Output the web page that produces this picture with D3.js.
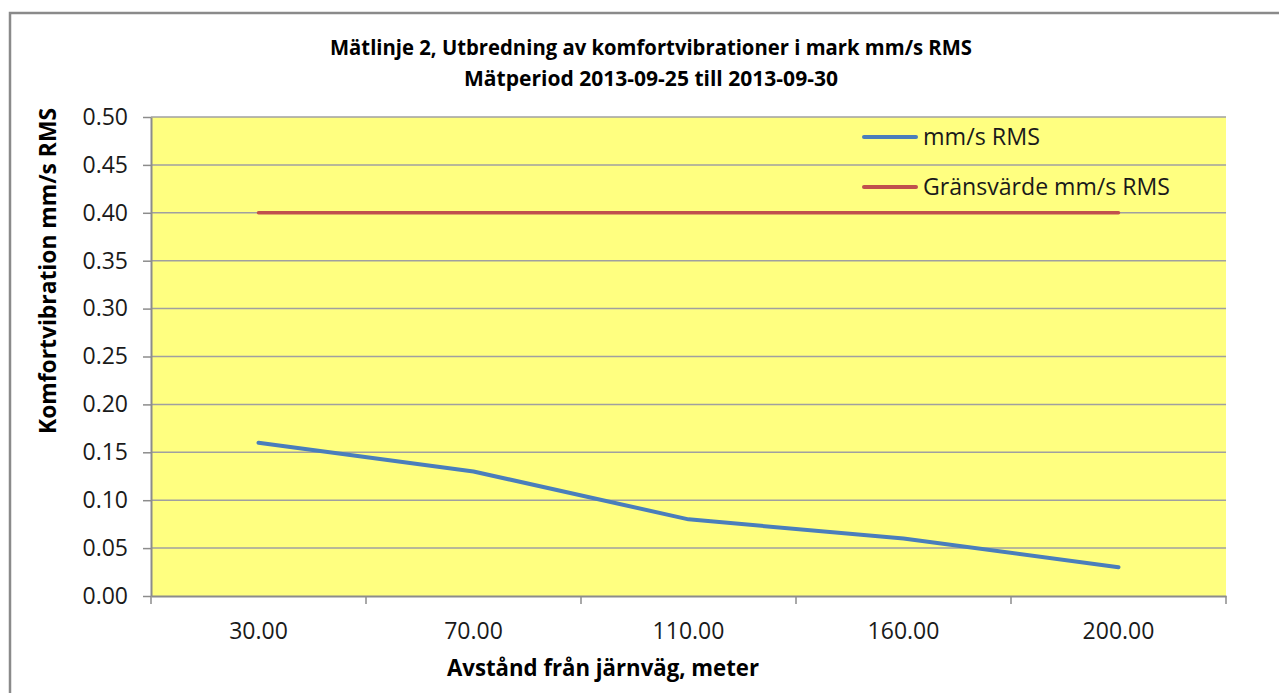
<!DOCTYPE html>
<html>
<head>
<meta charset="utf-8">
<script src="https://cdn.jsdelivr.net/npm/d3@7"></script>
<style>
  html, body { margin: 0; padding: 0; background: #ffffff; }
  svg { display: block; }
</style>
</head>
<body>
<svg id="chart" width="1279" height="693"></svg>
<script>
// ---- data ----
const categories = ["30.00", "70.00", "110.00", "160.00", "200.00"];
const rmsValues = [0.16, 0.13, 0.08, 0.06, 0.03];
const limitValues = [0.40, 0.40, 0.40, 0.40, 0.40];
const yTicks = [0.00, 0.05, 0.10, 0.15, 0.20, 0.25, 0.30, 0.35, 0.40, 0.45, 0.50];
const seriesNames = ["mm/s RMS", "Gränsvärde mm/s RMS"];
const titleLines = ["Mätlinje 2, Utbredning av komfortvibrationer i mark mm/s RMS", "Mätperiod 2013-09-25 till 2013-09-30"];
const xTitle = "Avstånd från järnväg, meter";
const yTitle = "Komfortvibration mm/s RMS";

// ---- layout ----
const svg = d3.select("#chart");
const plot = { left: 151, right: 1226, top: 117, bottom: 596 };
const fontReg = "'Open Sans', 'Liberation Sans', sans-serif";
const textCol = "#1a1a1a";
const gridCol = "#a0a0a0";
const axisCol = "#8c8c8c";

// outer chart border
svg.append("rect")
  .attr("x", 10).attr("y", 13)
  .attr("width", 1300).attr("height", 720)
  .attr("fill", "#ffffff")
  .attr("stroke", "#8a8a8a").attr("stroke-width", 2.5);

const x = d3.scaleBand().domain(categories).range([plot.left, plot.right]).padding(0);
const y = d3.scaleLinear().domain([0, 0.5]).range([plot.bottom, plot.top]);
const cx = c => x(c) + x.bandwidth() / 2;

// plot area
svg.append("rect")
  .attr("x", plot.left).attr("y", plot.top)
  .attr("width", plot.right - plot.left).attr("height", plot.bottom - plot.top)
  .attr("fill", "#ffff80");

// gridlines
svg.append("g").selectAll("line")
  .data(yTicks.filter(d => d > 0))
  .join("line")
  .attr("x1", plot.left).attr("x2", plot.right)
  .attr("y1", d => y(d)).attr("y2", d => y(d))
  .attr("stroke", gridCol).attr("stroke-width", 1.5);

// y axis
const yAxis = svg.append("g")
  .attr("transform", `translate(${plot.left},0)`)
  .call(d3.axisLeft(y).tickValues(yTicks).tickFormat(d3.format(".2f")).tickSize(8).tickSizeOuter(0).tickPadding(15));
yAxis.select(".domain").attr("stroke", axisCol).attr("stroke-width", 2);
yAxis.selectAll(".tick line").attr("stroke", axisCol).attr("stroke-width", 1.5);
yAxis.selectAll(".tick text")
  .attr("fill", textCol)
  .style("font-family", fontReg).style("font-size", "23px");

// x axis
const xAxis = svg.append("g")
  .attr("transform", `translate(0,${plot.bottom})`)
  .call(d3.axisBottom(x).tickSize(0).tickPadding(27).tickSizeOuter(0));
xAxis.select(".domain").attr("stroke", axisCol).attr("stroke-width", 2);
xAxis.selectAll(".tick text")
  .attr("fill", textCol)
  .style("font-family", fontReg).style("font-size", "23px");
const boundaries = categories.map(c => x(c)).concat([x.range()[1]]);
xAxis.append("g").selectAll("line")
  .data(boundaries)
  .join("line")
  .attr("x1", d => d).attr("x2", d => d)
  .attr("y1", 0).attr("y2", 8)
  .attr("stroke", axisCol).attr("stroke-width", 1.5);

// lines
const line = d3.line()
  .x((d, i) => cx(categories[i]))
  .y(d => y(d))
  .curve(d3.curveLinear);

svg.append("path")
  .datum(limitValues)
  .attr("d", line)
  .attr("fill", "none")
  .attr("stroke", "#c0504d").attr("stroke-width", 3.5)
  .attr("stroke-linecap", "round");

svg.append("path")
  .datum(rmsValues)
  .attr("d", line)
  .attr("fill", "none")
  .attr("stroke", "#4a7ebb").attr("stroke-width", 4)
  .attr("stroke-linecap", "round").attr("stroke-linejoin", "round");

// legend
const legendColors = ["#4a7ebb", "#c0504d"];
const legendY = [137, 187];
const legendLens = [117, 247];
const lg = svg.append("g");
seriesNames.forEach((name, i) => {
  lg.append("line")
    .attr("x1", 864).attr("x2", 916)
    .attr("y1", legendY[i]).attr("y2", legendY[i])
    .attr("stroke", legendColors[i]).attr("stroke-width", 4)
    .attr("stroke-linecap", "round");
  lg.append("text")
    .attr("x", 923).attr("y", legendY[i] + 8)
    .attr("fill", textCol)
    .style("font-family", fontReg).style("font-size", "23px")
    .attr("textLength", legendLens[i]).attr("lengthAdjust", "spacingAndGlyphs")
    .text(name);
});

// titles
const titleLens = [642, 374];
const titleY = [55, 86];
titleLines.forEach((t, i) => {
  svg.append("text")
    .attr("x", 651).attr("y", titleY[i])
    .attr("text-anchor", "middle")
    .attr("fill", "#000")
    .style("font-family", fontReg).style("font-size", "21px").style("font-weight", "bold")
    .attr("textLength", titleLens[i]).attr("lengthAdjust", "spacingAndGlyphs")
    .text(t);
});

svg.append("text")
  .attr("x", 603).attr("y", 676)
  .attr("text-anchor", "middle")
  .attr("fill", "#000")
  .style("font-family", fontReg).style("font-size", "23px").style("font-weight", "bold")
  .attr("textLength", 312).attr("lengthAdjust", "spacingAndGlyphs")
  .text(xTitle);

svg.append("text")
  .attr("transform", "translate(56,271) rotate(-90)")
  .attr("text-anchor", "middle")
  .attr("fill", "#000")
  .style("font-family", fontReg).style("font-size", "23px").style("font-weight", "bold")
  .attr("textLength", 326).attr("lengthAdjust", "spacingAndGlyphs")
  .text(yTitle);
</script>
</body>
</html>
